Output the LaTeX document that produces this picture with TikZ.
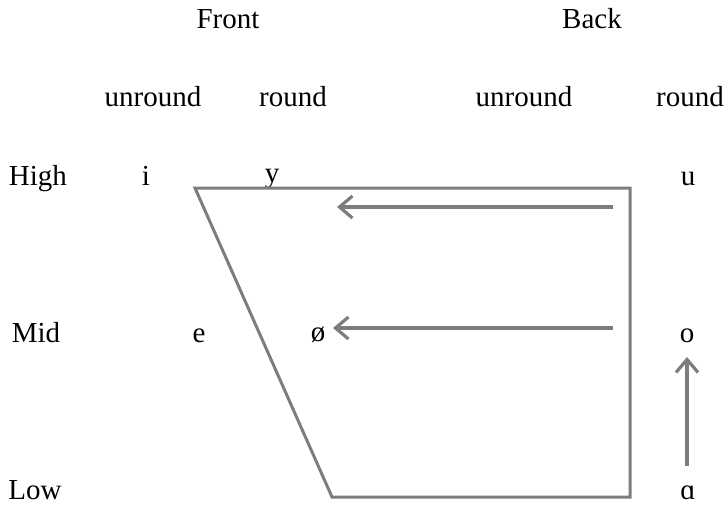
\documentclass[tikz,border=0pt]{standalone}
\usepackage{fontspec}
\setmainfont{Liberation Serif}
\usetikzlibrary{arrows.meta}
\definecolor{linegray}{RGB}{125,125,125}
\tikzset{
  lbl/.style={anchor=base, inner sep=0pt, font=\fontsize{29}{34}\selectfont},
  chart/.style={draw=linegray, line width=3pt, line join=miter},
  shift arrow/.style={draw=linegray, line width=3.2pt, -{Straight Barb[length=13pt,width=22pt,line width=3.2pt]}}
}
\begin{document}
\begin{tikzpicture}[x=1pt,y=-1pt]
\useasboundingbox (0,0) rectangle (728,504);
% headings
\node[lbl] (front) at (228,28) {Front};
\node[lbl] (back) at (592,28) {Back};
\node[lbl] (fu) at (153,106) {unround};
\node[lbl] (fr) at (293,106) {round};
\node[lbl] (bu) at (524,106) {unround};
\node[lbl] (br) at (690,106) {round};
% rows
\node[lbl] (high) at (38,185) {High};
\node[lbl] (mid) at (36,342) {Mid};
\node[lbl] (low) at (35,499) {Low};
% vowels
\node[lbl] (vi) at (146,185) {i};
\node[lbl] (vy) at (272,182) {y};
\node[lbl] (vu) at (688,185) {u};
\node[lbl] (ve) at (199,342) {e};
\node[lbl] (voe) at (318,341) {ø};
\node[lbl] (vo) at (687,342) {o};
\node[lbl] (va) at (688,499) {ɑ};
% trapezoid
\coordinate (tl) at (195,188);
\coordinate (tr) at (630,188);
\coordinate (brc) at (630,497);
\coordinate (bl) at (332,497);
\draw[chart] (tl) -- (tr) -- (brc) -- (bl) -- cycle;
% arrows
\coordinate (a1s) at (613,207);
\coordinate (a1e) at (337,207);
\coordinate (a2s) at (613,328);
\coordinate (a2e) at (333,328);
\coordinate (a3s) at (687,466);
\coordinate (a3e) at (687,357);
\draw[shift arrow] (a1s) -- (a1e);
\draw[shift arrow] (a2s) -- (a2e);
\draw[shift arrow] (a3s) -- (a3e);
\end{tikzpicture}
\end{document}
